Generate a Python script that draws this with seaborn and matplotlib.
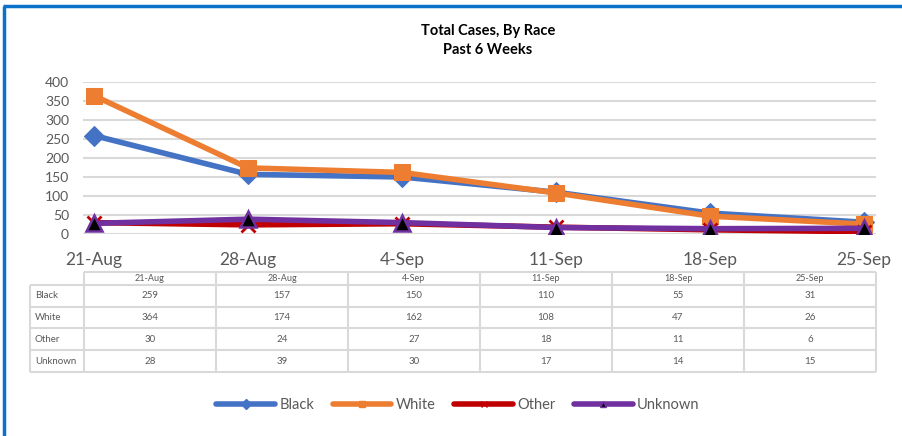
import matplotlib
matplotlib.use('Agg')
import matplotlib.pyplot as plt
from matplotlib.lines import Line2D
import numpy as np
import pandas as pd
import seaborn as sns

weeks = ['21-Aug', '28-Aug', '4-Sep', '11-Sep', '18-Sep', '25-Sep']
black = [259, 157, 150, 110, 55, 31]
white = [364, 174, 162, 108, 47, 26]
other = [30, 24, 27, 18, 11, 6]
unknown = [28, 39, 30, 17, 14, 15]

series = {'Black': black, 'White': white, 'Other': other, 'Unknown': unknown}
colors = {'Black': '#4472C4', 'White': '#ED7D31', 'Other': '#C00000', 'Unknown': '#7030A0'}
marker_style = {
    'Black': dict(marker='D', markersize=10, markerfacecolor='#4472C4', markeredgecolor='#4472C4'),
    'White': dict(marker='s', markersize=11, markerfacecolor='#ED7D31', markeredgecolor='#ED7D31'),
    'Other': dict(marker='x', markersize=10, markeredgewidth=2, markeredgecolor='#C00000'),
    'Unknown': dict(marker='^', markersize=11, markerfacecolor='black', markeredgecolor='#7030A0',
                    markeredgewidth=1.8),
}

sns.set_theme(style='white')
plt.rcParams['font.family'] = ['Lato', 'DejaVu Sans']
TXT = '#595959'
GRID = '#D9D9D9'

W, H = 903, 436
fig = plt.figure(figsize=(W / 100, H / 100), dpi=100)


def fx(px):
    return px / W


def fy(py):
    return 1 - py / H


ax = fig.add_axes([fx(83), fy(234), fx(876) - fx(83), fy(82) - fy(234)])
x = np.arange(len(weeks))
for name, vals in series.items():
    df = pd.DataFrame({'week': x, 'cases': vals})
    sns.lineplot(data=df, x='week', y='cases', ax=ax, color=colors[name], linewidth=4,
                 solid_joinstyle='round', solid_capstyle='round', **marker_style[name])

ax.set_xlim(-11 / 154, 5 + 12 / 154)
ax.set_ylim(0, 400)
ax.set_yticks(range(0, 401, 50))
ax.set_xticks(x)
ax.set_xticklabels(weeks)
ax.tick_params(axis='y', labelsize=10, labelcolor=TXT, length=0, pad=10)
ax.tick_params(axis='x', labelsize=12.5, labelcolor=TXT, length=0, pad=13)
ax.yaxis.grid(True, color=GRID, linewidth=1.5)
ax.set_axisbelow(True)
for s in ax.spines.values():
    s.set_visible(False)
ax.set_xlabel('')
ax.set_ylabel('')

fig.text(fx(488), fy(31), 'Total Cases, By Race', ha='center', va='center', fontsize=10.5,
         fontweight='bold', color='black')
fig.text(fx(488), fy(50), 'Past 6 Weeks', ha='center', va='center', fontsize=10.5,
         fontweight='bold', color='black')

# data table under the chart
tax = fig.add_axes([0, 0, 1, 1], zorder=-1)
tax.set_xlim(0, W)
tax.set_ylim(H, 0)
tax.axis('off')
col_edges = [84 + 132 * i for i in range(len(weeks) + 1)]
row_edges = [272, 285, 306.5, 328, 350, 372]
tax.hlines(row_edges[0], col_edges[0], col_edges[-1], color=GRID, lw=1.5)
tax.hlines(row_edges[1:], 30, col_edges[-1], color=GRID, lw=1.5)
tax.vlines(col_edges, row_edges[0], row_edges[-1], color=GRID, lw=1.5)
tax.vlines(30, row_edges[1], row_edges[-1], color=GRID, lw=1.5)
for i, wk in enumerate(weeks):
    cx = (col_edges[i] + col_edges[i + 1]) / 2
    tax.text(cx, (row_edges[0] + row_edges[1]) / 2, wk, ha='center', va='center',
             fontsize=6.5, color=TXT)
for r, (name, vals) in enumerate(series.items()):
    cy = (row_edges[r + 1] + row_edges[r + 2]) / 2
    tax.text(35, cy, name, ha='left', va='center', fontsize=7, color=TXT)
    for i, v in enumerate(vals):
        cx = (col_edges[i] + col_edges[i + 1]) / 2
        tax.text(cx, cy, str(v), ha='center', va='center', fontsize=7, color=TXT)

# blue frame (top and left edges visible)
tax.plot([3, W], [6, 6], color='#0A72C8', lw=2.5, solid_capstyle='butt')
tax.plot([4, 4], [6, H], color='#0A72C8', lw=2.5, solid_capstyle='butt')

handles = []
for name in series:
    st = dict(marker_style[name])
    st['markersize'] = 5
    if 'markeredgewidth' in st:
        st['markeredgewidth'] = 1
    handles.append(Line2D([0], [0], color=colors[name], lw=4, solid_capstyle='round', **st))
fig.legend(handles, list(series.keys()), loc='center', bbox_to_anchor=(fx(458), fy(405)),
           ncol=4, frameon=False, fontsize=10.5, handlelength=4, columnspacing=1.3,
           handletextpad=0.3, labelcolor=TXT)

fig.savefig('out.png', dpi=100, facecolor='white')
